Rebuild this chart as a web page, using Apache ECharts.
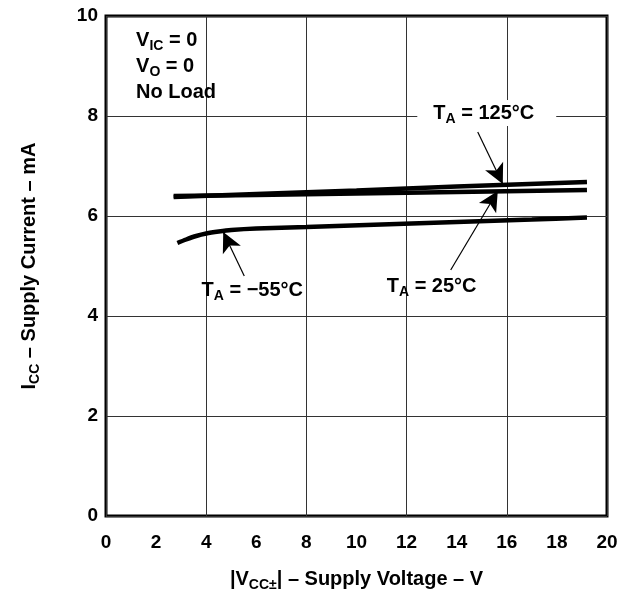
<!DOCTYPE html>
<html>
<head>
<meta charset="utf-8">
<script src="https://cdn.jsdelivr.net/npm/echarts@6/dist/echarts.min.js"></script>
<style>
  html, body { margin: 0; background: #fff; }
  #chart { width: 621px; height: 589px; }
</style>
</head>
<body>
<div id="chart"></div>
<script>
// supply voltage (V) vs supply current (mA)
const t125 = [[2.7, 6.38], [6, 6.44], [10, 6.51], [14, 6.59], [19.2, 6.68]]
const t25 = [[2.7, 6.4], [6, 6.42], [10, 6.45], [14, 6.48], [19.2, 6.52]]
const tm55 = [[2.85, 5.46], [3.2, 5.53], [3.6, 5.6], [4, 5.65], [4.5, 5.69], [5, 5.72],
  [6, 5.75], [8, 5.78], [11, 5.83], [14, 5.88], [17, 5.93], [19.2, 5.97]]

// arrows: [from, to] in data units
const arrow125 = [[14.84, 7.68], [15.84, 6.64]]
const arrow25 = [[13.76, 4.92], [15.64, 6.5]]
const arrowM55 = [[5.52, 4.8], [4.68, 5.68]]

const labelPos125 = [15.2, 8.06]
const labelPos25 = [13.0, 4.6]
const labelPosM55 = [5.84, 4.52]
const condPos = [1.2, 9.0]

const font = '"Liberation Sans", Arial, Helvetica, sans-serif'
const rich = {
  b: { fontFamily: font, fontWeight: 'bold', fontSize: 20, color: '#000', lineHeight: 26 },
  s: { fontFamily: font, fontWeight: 'bold', fontSize: 14, color: '#000', lineHeight: 14, verticalAlign: 'bottom', padding: [7, 0, 0, 0] }
}

const lineStyle = { color: '#000', width: 4.5 }

function arrowLine (a) {
  return {
    silent: true,
    symbol: ['none', 'arrow'],
    symbolSize: [15, 20],
    label: { show: false },
    lineStyle: { color: '#000', width: 1.2, type: 'solid' },
    data: [[{ coord: a[0] }, { coord: a[1] }]]
  }
}

function textPoint (pos, text, extra) {
  return {
    silent: true,
    symbol: 'circle',
    symbolSize: 0,
    data: [{
      coord: pos,
      label: Object.assign({ show: true, position: 'inside', formatter: text, rich: rich }, extra || {})
    }]
  }
}

let chart = echarts.init(document.getElementById('chart'))

let opts = {
  animation: false,
  grid: {
    left: 106, right: 14, top: 16, bottom: 73, containLabel: false, outerBoundsMode: 'none',
    show: true, borderColor: '#000', borderWidth: 3
  },
  xAxis: [{
    type: 'value', min: 0, max: 20, interval: 2,
    name: '{b||V}{s|CC±}{b|| – Supply Voltage – V}',
    nameLocation: 'middle', nameGap: 50,
    nameTextStyle: { rich: rich },
    axisLine: { show: false },
    axisTick: { show: false },
    splitLine: { show: false },
    axisLabel: { margin: 17, fontFamily: font, fontWeight: 'bold', fontSize: 19, color: '#000' }
  }, {
    type: 'value', min: 0, max: 20, interval: 4, position: 'bottom',
    axisLine: { show: false }, axisTick: { show: false }, axisLabel: { show: false },
    splitLine: { show: true, lineStyle: { color: '#333', width: 1 } }
  }],
  yAxis: {
    type: 'value', min: 0, max: 10, interval: 2,
    name: '{b|I}{s|CC}{b| – Supply Current – mA}',
    nameLocation: 'middle', nameGap: 64, nameRotate: 90,
    nameTextStyle: { rich: rich },
    axisLine: { show: false },
    axisTick: { show: false },
    splitLine: { show: true, lineStyle: { color: '#333', width: 1 } },
    axisLabel: { margin: 8, fontFamily: font, fontWeight: 'bold', fontSize: 19, color: '#000' }
  },
  series: [{
    name: '125', type: 'line', data: t125, showSymbol: false, lineStyle: lineStyle, z: 5,
    markLine: arrowLine(arrow125),
    markPoint: textPoint(labelPos125, '{b|T}{s|A}{b| = 125°C}',
      { backgroundColor: '#fff', padding: [0, 22, 0, 16] })
  }, {
    name: '25', type: 'line', data: t25, showSymbol: false, lineStyle: lineStyle, z: 5,
    markLine: arrowLine(arrow25),
    markPoint: textPoint(labelPos25, '{b|T}{s|A}{b| = 25°C}')
  }, {
    name: '-55', type: 'line', data: tm55, showSymbol: false, smooth: 0.3, lineStyle: lineStyle, z: 5,
    markLine: arrowLine(arrowM55),
    markPoint: textPoint(labelPosM55, '{b|T}{s|A}{b| = −55°C}')
  }, {
    name: 'cond', type: 'line', data: [],
    markPoint: textPoint(condPos, '{b|V}{s|IC}{b| = 0}\n{b|V}{s|O}{b| = 0}\n{b|No Load}',
      { position: 'right', align: 'left', distance: 0 })
  }]
}
chart.setOption(opts)
</script>
</body>
</html>
